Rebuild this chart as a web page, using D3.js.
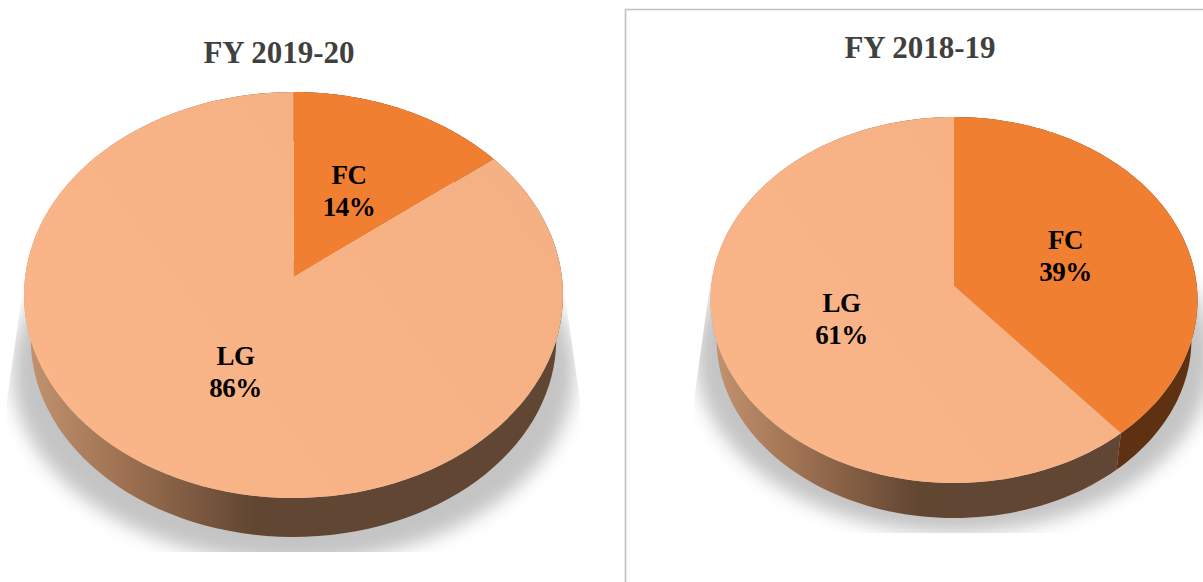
<!DOCTYPE html>
<html>
<head>
<meta charset="utf-8">
<script src="https://cdn.jsdelivr.net/npm/d3@7"></script>
<style>
  html, body { margin: 0; padding: 0; background: #fff; overflow: hidden; }
  svg { display: block; }
  text { font-family: "Liberation Serif", serif; font-weight: bold; }
</style>
</head>
<body>
<script>
"use strict";
// chart values
const categories = ["FC", "LG"];
const titles = ["FY 2019-20", "FY 2018-19"];
const values2019 = [14.4, 85.6];
const values2018 = [38.8, 61.2];

const sliceColors = ["#f17f31", "#f7b286"];
const wallColors = ["#5e3112", null];

// layout of the two tilted pies
const pies = [
  { title: titles[0], values: values2019, id: "a", cx: 293.5, rx: 269.5, top: 92, apex: 277, bottom: 498, drop: 44,
    titleX: 279, titleY: 63, shadow: { cy: 372, rx: 281, ry: 190 }, clip: [[27, 260], [7, 400], [7, 552], [580, 552], [580, 400], [560, 260]] },
  { title: titles[1], values: values2018, id: "b", cx: 954, rx: 243.5, top: 117, apex: 286, bottom: 483, drop: 39.6,
    titleX: 920, titleY: 58, shadow: { cy: 357, rx: 258, ry: 176 }, clip: [[712, 270], [694, 400], [694, 533], [1203, 533], [1203, 270]] }
];

const svg = d3.select("body").append("svg")
  .attr("width", 1203)
  .attr("height", 582);
const defs = svg.append("defs");

defs.append("filter").attr("id", "blur")
  .attr("x", "-10%").attr("y", "-10%").attr("width", "120%").attr("height", "120%")
  .append("feGaussianBlur").attr("stdDeviation", 9);

// frame round the right hand chart
svg.append("path")
  .attr("d", "M625.5,582V9.5H1203")
  .attr("fill", "none")
  .attr("stroke", "#bfbfbf")
  .attr("stroke-width", 1.6);

const line = d3.line().x(d => d[0]).y(d => d[1]);
const pct = d3.format(".0%");
const arc = d3.arc().innerRadius(0).outerRadius(1);

pies.forEach(drawPie);

function drawPie(p) {
  // map the unit disc onto the tilted ellipse, so the middle lands on the apex
  const b = p.apex;
  const c = (2 * b - p.top - p.bottom) / (p.top - p.bottom);
  const a = p.top * (c + 1) - b;
  const k = p.rx * Math.sqrt(1 - c * c);
  const project = (u, v) => {
    const w = c * v + 1;
    return [p.cx + k * u / w, (a * v + b) / w];
  };
  const rim = t => project(Math.sin(t), Math.cos(t));
  const yMid = (p.top + p.bottom) / 2;
  const base = q => [p.cx + (q[0] - p.cx) * 0.975, yMid + (q[1] - yMid) * 0.975 + p.drop];

  const slices = d3.pie().sort(null).value(d => d)(p.values);
  const g = svg.append("g");

  // soft shadow under the disc
  defs.append("clipPath").attr("id", "clip-" + p.id)
    .append("path").attr("d", line(p.clip) + "Z");
  g.append("g").attr("clip-path", "url(#clip-" + p.id + ")")
    .append("ellipse")
    .attr("cx", p.cx)
    .attr("cy", p.shadow.cy)
    .attr("rx", p.shadow.rx)
    .attr("ry", p.shadow.ry)
    .attr("fill", "#c4c4c4")
    .attr("filter", "url(#blur)");

  // side wall fades from tan to dark brown
  const wallGrad = defs.append("linearGradient").attr("id", "wall-" + p.id)
    .attr("gradientUnits", "userSpaceOnUse")
    .attr("x1", p.cx - p.rx).attr("x2", p.cx).attr("y1", 0).attr("y2", 0);
  wallGrad.append("stop").attr("offset", 0).attr("stop-color", "#c49470");
  wallGrad.append("stop").attr("offset", 0.4).attr("stop-color", "#9a6e4f");
  wallGrad.append("stop").attr("offset", 0.85).attr("stop-color", "#614632");
  wallGrad.append("stop").attr("offset", 1).attr("stop-color", "#614633");

  const topGrad = defs.append("linearGradient").attr("id", "top-" + p.id)
    .attr("gradientUnits", "userSpaceOnUse")
    .attr("x1", p.cx - p.rx).attr("x2", p.cx + p.rx).attr("y1", p.bottom).attr("y2", p.top);
  topGrad.append("stop").attr("offset", 0).attr("stop-color", "#fab588");
  topGrad.append("stop").attr("offset", 1).attr("stop-color", "#f4b083");

  const steps = s => d3.range(0, 121).map(i => s.startAngle + (s.endAngle - s.startAngle) * i / 120);

  g.selectAll(".wall").data(slices).join("path")
    .attr("class", "wall")
    .attr("d", s => {
      const upper = steps(s).map(rim);
      const lower = upper.map(base).reverse();
      return line(upper.concat(lower)) + "Z";
    })
    .attr("fill", (s, i) => wallColors[i] || "url(#wall-" + p.id + ")");

  g.selectAll(".slice").data(slices).join("path")
    .attr("class", "slice")
    .attr("d", s => line([project(0, 0)].concat(steps(s).map(rim))) + "Z")
    .attr("fill", (s, i) => i === 1 ? "url(#top-" + p.id + ")" : sliceColors[i]);

  const labels = g.selectAll(".label").data(slices).join("text")
    .attr("class", "label")
    .attr("text-anchor", "middle")
    .attr("font-size", 27)
    .attr("letter-spacing", -0.5)
    .attr("fill", "#000")
    .attr("transform", s => {
      const m = arc.centroid(s);
      const q = project(m[0], -m[1]);
      return "translate(" + (q[0] + (m[0] < 0 ? 3 : -1)) + "," + (q[1] + 1) + ")";
    });
  labels.append("tspan").attr("x", 0).attr("y", -7).text((s, i) => categories[i]);
  labels.append("tspan").attr("x", 0).attr("y", 25).text(s => pct(s.value / d3.sum(p.values)));

  g.append("text")
    .attr("x", p.titleX)
    .attr("y", p.titleY)
    .attr("text-anchor", "middle")
    .attr("font-size", 31)
    .attr("fill", "#404040")
    .text(p.title);
}
</script>
</body>
</html>
